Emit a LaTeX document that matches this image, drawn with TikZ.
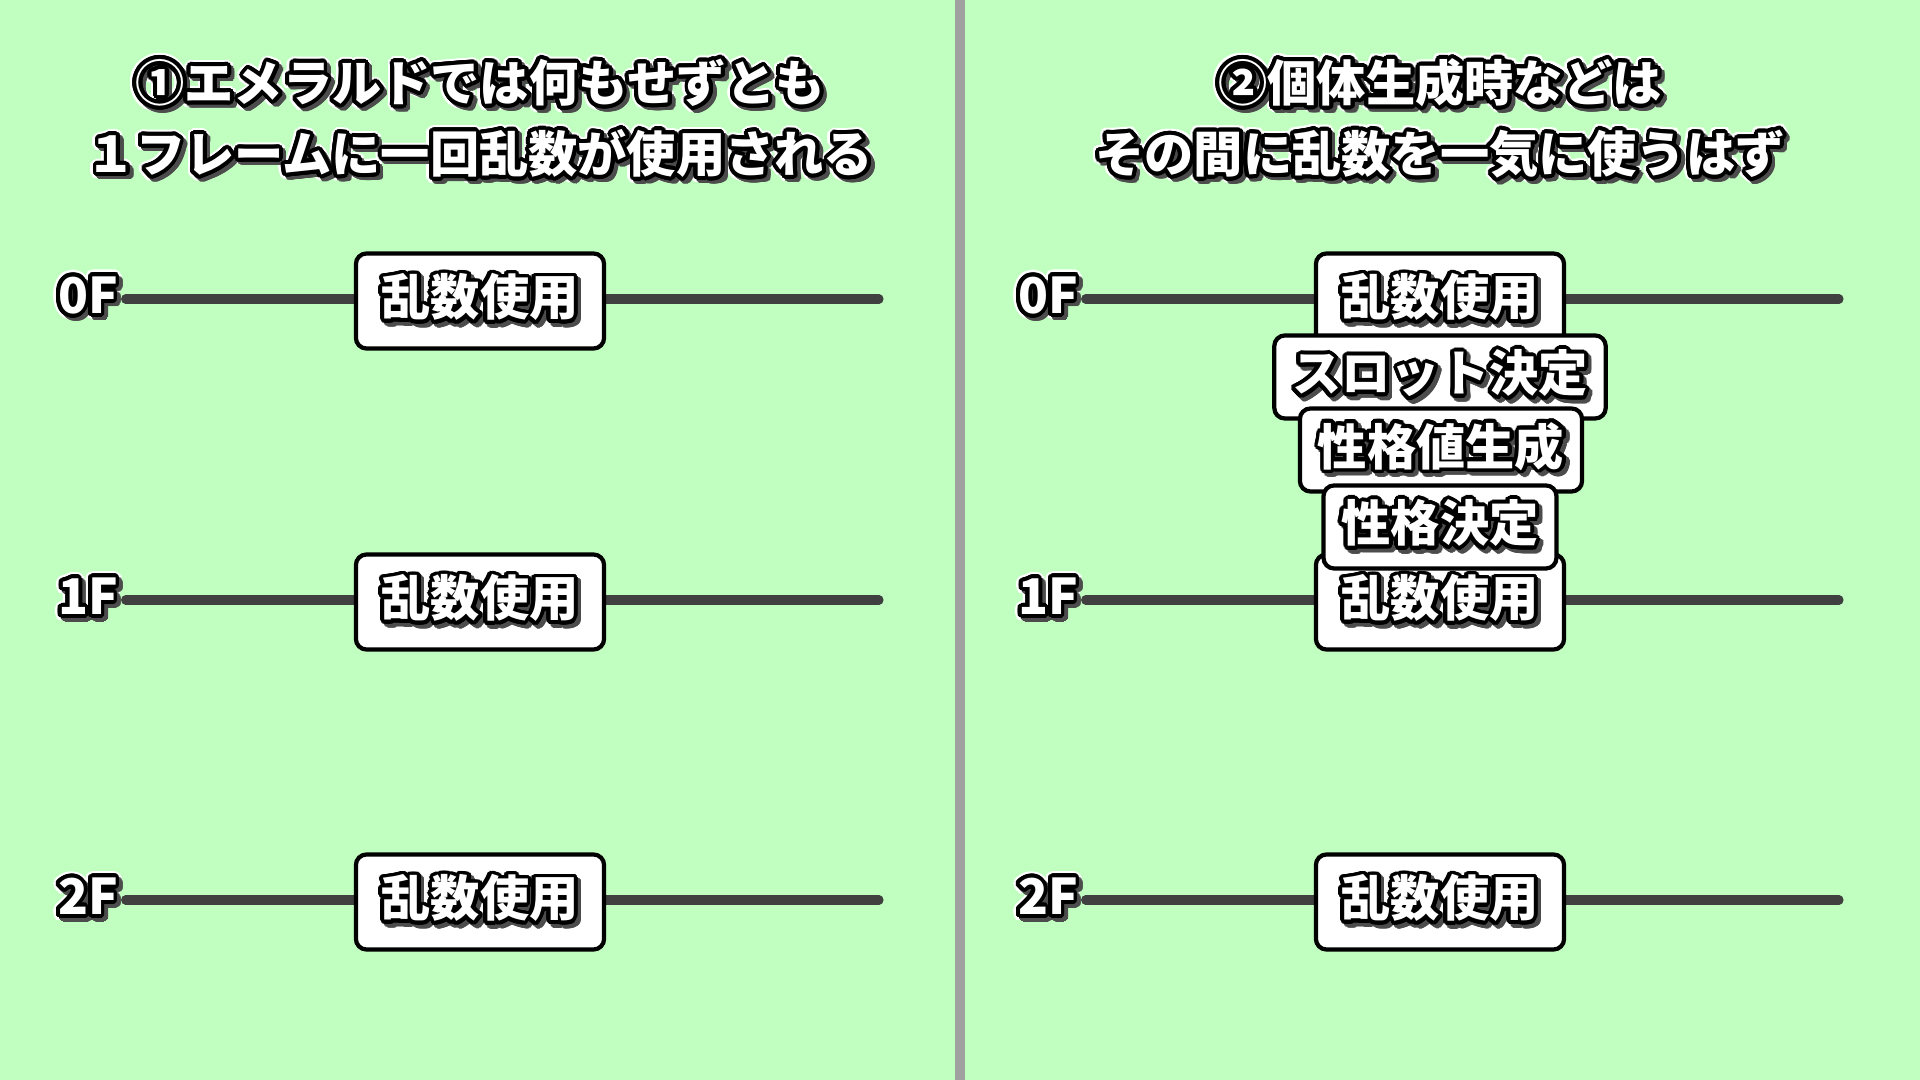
\documentclass[tikz,border=0pt]{standalone}
\usepackage{fontspec}
\setmainfont{Noto Sans CJK JP}[BoldFont={* Black}]
\usepackage{contour}
\contournumber{24}

\definecolor{bggreen}{HTML}{C0FFC0}
\definecolor{linegray}{HTML}{404040}
\definecolor{splitgray}{HTML}{A0A0A0}

% white text, black outline, grey drop shadow
\newcommand{\otxt}[1]{{%
  \contourlength{1.8pt}%
  \rlap{\contour{white}{#1}}%
  \rlap{\kern1pt\raisebox{-1pt}{\color{black!70}\contourlength{1.1pt}\contour{black!70}{#1}}}%
  \contourlength{1.1pt}\color{white}\contour{black}{#1}}}

\tikzset{
  bigfont/.style={font=\bfseries\fontsize{14pt}{20.2pt}\selectfont},
  title/.style={bigfont, align=center, inner sep=0pt},
  flabel/.style={bigfont, inner sep=2pt},
  randbox/.style={bigfont, draw=black, line width=1.2pt, fill=white, rounded corners=3pt,
    minimum width=2.48cm, minimum height=0.95cm, inner sep=0pt},
  stackbox/.style={randbox, minimum width=0pt, minimum height=0.83cm, inner xsep=0.18cm},
  tline/.style={linegray, line width=2.6pt, line cap=round},
}

\begin{document}
\begin{tikzpicture}[x=0.01cm, y=-0.01cm]
    % background and divider
    \useasboundingbox (0,0) rectangle (1920,1080);
    \fill[bggreen] (0,0) rectangle (1920,1080);
    \fill[splitgray] (955,0) rectangle (965,1080);

    % titles
    \node[title] (t1) at (480,122) {\otxt{①エメラルドでは何もせずとも}\\\otxt{１フレームに一回乱数が使用される}};
    \node[title] (t2) at (1440,122) {\otxt{②個体生成時などは}\\\otxt{その間に乱数を一気に使うはず}};

    % frames, left side
    \foreach \f/\y in {0/299,1/600,2/900} {
        \node[flabel] (l\f) at (88,\y) {\otxt{\f F}};
        \coordinate (le\f) at (879,\y);
        \draw[tline] (l\f) -- (le\f);
        \node[randbox] (lr\f) at (480,\y+2) {\otxt{乱数使用}};
    }

    % frames, right side
    \foreach \f/\y in {0/299,1/600,2/900} {
        \node[flabel] (r\f) at (1048,\y) {\otxt{\f F}};
        \coordinate (re\f) at (1839,\y);
        \draw[tline] (r\f) -- (re\f);
        \node[randbox] (rr\f) at (1440,\y+2) {\otxt{乱数使用}};
    }

    % extra draws between 0F and 1F
    \node[stackbox] (slot) at (1440,377) {\otxt{スロット決定}};
    \node[stackbox] (pid) at (1441,450) {\otxt{性格値生成}};
    \node[stackbox] (nature) at (1440,527) {\otxt{性格決定}};
\end{tikzpicture}
\end{document}
